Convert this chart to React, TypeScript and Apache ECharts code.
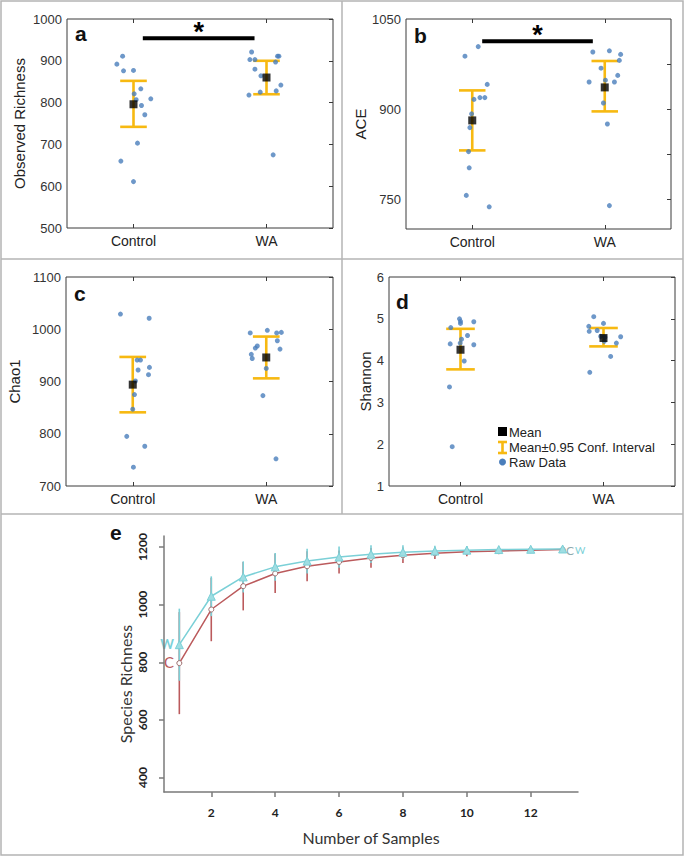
import React, { useEffect, useRef } from "react";
import * as echarts from "echarts";

// ---------- data ----------
const groups = ["Control", "WA"];

// a: Observed Richness
const richCtrlX = [0.875, 0.918, 0.925, 1.0, 1.005, 1.02, 1.055, 1.06, 1.13, 1.085, 1.03, 0.905, 1.0];
const richCtrlY = [892, 911, 876, 877, 821, 807, 833, 793, 809, 771, 703, 660, 611];
const richWaX = [1.888, 1.875, 1.913, 1.913, 1.958, 2.083, 2.093, 2.068, 2.108, 2.073, 1.953, 1.868, 2.05];
const richWaY = [921, 903, 903, 880, 864, 911, 911, 897, 842, 828, 825, 818, 675];
const richMean = [796, 860];
const richLow = [742, 820];
const richHigh = [852, 900];
const richSig = [1.07, 1.91, 954];

// b: ACE
const aceCtrlX = [1.045, 0.945, 1.113, 1.013, 1.058, 1.095, 0.995, 0.982, 0.972, 0.977, 0.955, 1.128];
const aceCtrlY = [1004, 988, 941, 916, 919, 919, 892, 869, 829, 802, 756, 737];
const aceWaX = [1.91, 2.035, 2.12, 2.11, 1.972, 2.005, 1.882, 2.073, 2.098, 1.99, 2.02, 2.035];
const aceWaY = [995, 997, 991, 981, 968, 948, 945, 945, 956, 910, 875, 739];
const aceMean = [881, 936];
const aceLow = [831, 896];
const aceHigh = [931, 980];
const aceSig = [1.075, 1.91, 1013];

// c: Chao1
const chaoCtrlX = [0.908, 1.123, 1.033, 1.058, 1.04, 1.125, 1.118, 1.02, 1.013, 1.0, 0.955, 1.09, 1.005];
const chaoCtrlY = [1029, 1021, 941, 941, 922, 927, 913, 901, 875, 847, 795, 776, 736];
const chaoWaX = [1.88, 2.008, 2.078, 2.113, 2.083, 1.933, 1.918, 2.103, 1.888, 1.895, 2.0, 1.975, 2.073];
const chaoWaY = [993, 998, 993, 994, 978, 968, 964, 962, 952, 944, 925, 873, 752];
const chaoMean = [894, 946];
const chaoLow = [841, 906];
const chaoHigh = [947, 986];

// d: Shannon
const shCtrlX = [0.993, 1.0, 1.093, 0.932, 1.0, 1.049, 1.007, 0.928, 1.093, 0.998, 1.026, 0.923, 0.942];
const shCtrlY = [5.0, 4.94, 4.93, 4.79, 4.89, 4.6, 4.51, 4.4, 4.38, 4.42, 3.99, 3.37, 1.94];
const shWaX = [1.932, 1.897, 2.0, 1.9, 1.956, 1.98, 2.01, 2.12, 2.005, 2.09, 2.05, 1.904];
const shWaY = [5.05, 4.82, 4.89, 4.7, 4.72, 4.58, 4.56, 4.57, 4.46, 4.42, 4.1, 3.72];
const shMean = [4.26, 4.54];
const shLow = [3.79, 4.34];
const shHigh = [4.76, 4.78];

// e: rarefaction
const samples = [1, 2, 3, 4, 5, 6, 7, 8, 9, 10, 11, 12, 13];
const wMean = [861, 1029, 1096, 1131, 1151, 1165, 1175, 1182, 1186, 1189, 1191, 1192, 1193];
const wSd = [125, 69, 54, 48, 43, 37, 31, 24, 18, 14, 10, 6, 0];
const cMean = [797, 983, 1064, 1108, 1133, 1148, 1162, 1171, 1178, 1183, 1186, 1189, 1191];
const cSd = [177, 110, 84, 68, 52, 40, 34, 27, 20, 15, 11, 7, 0];
const eXTicks = [2, 4, 6, 8, 10, 12];
const eYTicks = [400, 600, 800, 1000, 1200];

// ---------- styling ----------
const FONT = "Liberation Sans, Arial, sans-serif";
const FONT_E = "Lato, Liberation Sans, sans-serif";
const BLUE = "#4a7ebb";
const GOLD = "#f7b911";
const CYAN = "#7bd0d7";
const RED = "#bb5a5c";
const FRAME = "#b4b4b4";
const plain = (v: number) => String(v);

const panels = [
  { name: "Observed Richness", letter: "a", grid: { left: 67, top: 19, width: 266, height: 209 }, min: 500, max: 1000, interval: 100, labels: null as number[] | null, rticks: null as number[] | null, nameGap: 40,
    cx: richCtrlX, cy: richCtrlY, wx: richWaX, wy: richWaY, mean: richMean, low: richLow, high: richHigh, sig: richSig as number[] | null },
  { name: "ACE", letter: "b", grid: { left: 406, top: 19, width: 265, height: 210 }, min: 700, max: 1050, interval: 50, labels: [750, 900, 1050], rticks: [750, 825, 900, 975], nameGap: 36,
    cx: aceCtrlX, cy: aceCtrlY, wx: aceWaX, wy: aceWaY, mean: aceMean, low: aceLow, high: aceHigh, sig: aceSig },
  { name: "Chao1", letter: "c", grid: { left: 66, top: 277, width: 267, height: 209 }, min: 700, max: 1100, interval: 100, labels: null, rticks: null, nameGap: 44,
    cx: chaoCtrlX, cy: chaoCtrlY, wx: chaoWaX, wy: chaoWaY, mean: chaoMean, low: chaoLow, high: chaoHigh, sig: null },
  { name: "Shannon", letter: "d", grid: { left: 389, top: 277, width: 286, height: 209 }, min: 1, max: 6, interval: 1, labels: null, rticks: null, nameGap: 16,
    cx: shCtrlX, cy: shCtrlY, wx: shWaX, wy: shWaY, mean: shMean, low: shLow, high: shHigh, sig: null },
];

function buildOption() {
  const grid: any[] = [];
  const xAxis: any[] = [];
  const yAxis: any[] = [];
  const series: any[] = [];

  panels.forEach((p, i) => {
    grid.push({ ...p.grid, show: true, borderColor: "#3a3a3a", borderWidth: 1, backgroundColor: "#fff" });
    const xBase = {
      gridIndex: i, type: "value", min: 0.5, max: 2.5,
      axisLine: { show: false }, splitLine: { show: false },
      axisTick: { show: true, inside: true, length: 4, customValues: [1, 2], lineStyle: { color: "#3a3a3a" } },
    };
    xAxis.push({ ...xBase, position: "bottom",
      axisLabel: { customValues: [1, 2], formatter: (v: number) => (Math.round(v) === 1 ? groups[0] : groups[1]), fontSize: 14, color: "#222", margin: 6, fontFamily: FONT } });
    xAxis.push({ ...xBase, position: "top", axisLabel: { show: false } });
    const yBase: any = {
      gridIndex: i, type: "value", min: p.min, max: p.max, interval: p.interval,
      axisLine: { show: false }, splitLine: { show: false },
    };
    yAxis.push({ ...yBase, position: "left", axisTick: { show: false },
      axisLabel: { fontSize: 13, color: "#333", margin: 5, fontFamily: FONT, formatter: plain, ...(p.labels ? { customValues: p.labels } : {}) },
      name: p.name, nameLocation: "middle", nameGap: p.nameGap, nameTextStyle: { fontSize: 15, color: "#222", fontFamily: FONT } });
    yAxis.push({ ...yBase, position: "right", axisLabel: { show: false },
      axisTick: { show: true, inside: true, length: 4, lineStyle: { color: "#3a3a3a" }, ...(p.rticks ? { customValues: p.rticks } : {}) } });

    const xi = 2 * i, yi = 2 * i;
    // error bars
    series.push({
      type: "custom", xAxisIndex: xi, yAxisIndex: yi, z: 2,
      data: [0, 1].map((k) => [k + 1, p.low[k], p.high[k]]),
      encode: { x: 0, y: [1, 2] },
      renderItem: (params: any, api: any) => {
        const x = api.value(0), lo = api.value(1), hi = api.value(2);
        const a = api.coord([x, lo]), b = api.coord([x, hi]);
        const l = api.coord([x - 0.1, lo]), r = api.coord([x + 0.1, lo]);
        const lt = api.coord([x - 0.1, hi]), rt = api.coord([x + 0.1, hi]);
        const st = { stroke: GOLD, lineWidth: 2.6 };
        return { type: "group", children: [
          { type: "line", shape: { x1: a[0], y1: a[1], x2: b[0], y2: b[1] }, style: st },
          { type: "line", shape: { x1: l[0], y1: l[1], x2: r[0], y2: r[1] }, style: st },
          { type: "line", shape: { x1: lt[0], y1: lt[1], x2: rt[0], y2: rt[1] }, style: st },
        ] };
      },
    });
    // raw data
    const raw: number[][] = [];
    p.cx.forEach((x, k) => raw.push([x, p.cy[k]]));
    p.wx.forEach((x, k) => raw.push([x, p.wy[k]]));
    series.push({ type: "scatter", xAxisIndex: xi, yAxisIndex: yi, z: 3, data: raw, symbol: "circle", symbolSize: 5, itemStyle: { color: BLUE } });
    // mean
    series.push({ type: "scatter", xAxisIndex: xi, yAxisIndex: yi, z: 4, data: [[1, p.mean[0]], [2, p.mean[1]]], symbol: "rect", symbolSize: 8, itemStyle: { color: "#000" } });
    // significance
    if (p.sig) {
      series.push({
        type: "custom", xAxisIndex: xi, yAxisIndex: yi, z: 5,
        data: [p.sig], encode: { x: [0, 1], y: 2 },
        renderItem: (params: any, api: any) => {
          const a = api.coord([api.value(0), api.value(2)]);
          const b = api.coord([api.value(1), api.value(2)]);
          return { type: "group", children: [
            { type: "line", shape: { x1: a[0], y1: a[1], x2: b[0], y2: b[1] }, style: { stroke: "#000", lineWidth: 4 } },
            { type: "text", x: (a[0] + b[0]) / 2, y: a[1] + 7, style: { text: "*", fontSize: 27, fontWeight: "bold", fontFamily: FONT, fill: "#000", align: "center", verticalAlign: "bottom" } },
          ] };
        },
      });
    }
  });

  // panel e
  grid.push({ left: 164, top: 536, width: 414, height: 256 });
  const eAxisColor = "#7a7a7a";
  xAxis.push({
    gridIndex: 4, type: "value", min: 0.52, max: 13.48, splitLine: { show: false },
    axisLine: { show: true, onZero: false, lineStyle: { color: eAxisColor, width: 1.5 } },
    axisTick: { show: true, length: 5, customValues: eXTicks, lineStyle: { color: eAxisColor, width: 1.5 } },
    axisLabel: { customValues: eXTicks, fontSize: 12, fontWeight: "bold", color: "#222", margin: 14, fontFamily: FONT_E, formatter: plain },
    name: "Number of Samples", nameLocation: "middle", nameGap: 37,
    nameTextStyle: { fontSize: 16, color: "#333", fontFamily: FONT_E },
  });
  yAxis.push({
    gridIndex: 4, type: "value", min: 350, max: 1238, splitLine: { show: false },
    axisLine: { show: true, onZero: false, lineStyle: { color: eAxisColor, width: 1.5 } },
    axisTick: { show: true, length: 5, customValues: eYTicks, lineStyle: { color: eAxisColor, width: 1.5 } },
    axisLabel: { customValues: eYTicks, fontSize: 12, fontWeight: "bold", color: "#222", margin: 16, rotate: 90, fontFamily: FONT_E, formatter: plain },
  });
  const errSeries = (mean: number[], sd: number[], color: string, z: number) => ({
    type: "custom", xAxisIndex: 8, yAxisIndex: 8, z,
    data: samples.map((s, k) => [s, mean[k] - sd[k], mean[k] + sd[k]]),
    encode: { x: 0, y: [1, 2] },
    renderItem: (params: any, api: any) => {
      const a = api.coord([api.value(0), api.value(1)]);
      const b = api.coord([api.value(0), api.value(2)]);
      return { type: "line", shape: { x1: a[0], y1: a[1], x2: b[0], y2: b[1] }, style: { stroke: color, lineWidth: 1.6 } };
    },
  });
  series.push(errSeries(cMean, cSd, RED, 2));
  series.push(errSeries(wMean, wSd, CYAN, 3));
  series.push({
    type: "line", xAxisIndex: 8, yAxisIndex: 8, z: 4, name: "C",
    data: samples.map((s, k) => [s, cMean[k]]),
    lineStyle: { color: RED, width: 1.5 }, symbol: "circle", symbolSize: 5,
    itemStyle: { color: "#fff", borderColor: "#9b6b6b", borderWidth: 1 },
  });
  series.push({
    type: "line", xAxisIndex: 8, yAxisIndex: 8, z: 5, name: "W",
    data: samples.map((s, k) => [s, wMean[k]]),
    lineStyle: { color: CYAN, width: 1.5 }, symbol: "triangle", symbolSize: 8,
    itemStyle: { color: "#9fdde2", borderColor: CYAN, borderWidth: 1 },
  });

  // graphics: frames, letters, legend, labels
  const frame = { stroke: FRAME, lineWidth: 1.5 };
  const letter = (t: string, x: number, y: number) => ({
    type: "text", x, y, style: { text: t, fontSize: 21, fontWeight: "bold", fontFamily: FONT, fill: "#111", align: "left", verticalAlign: "middle" },
  });
  const legText = (t: string, y: number) => ({
    type: "text", x: 509, y, style: { text: t, fontSize: 13, fontFamily: FONT, fill: "#222", align: "left", verticalAlign: "middle" },
  });
  const graphic: any[] = [
    { type: "rect", shape: { x: 1, y: 1, width: 682, height: 854 }, style: { fill: "none", ...frame } },
    { type: "line", shape: { x1: 342, y1: 1, x2: 342, y2: 514 }, style: frame },
    { type: "line", shape: { x1: 1, y1: 259, x2: 683, y2: 259 }, style: frame },
    { type: "line", shape: { x1: 1, y1: 514, x2: 683, y2: 514 }, style: frame },
    letter("a", 75, 33),
    letter("b", 414, 35),
    letter("c", 74, 293),
    letter("d", 396, 301),
    letter("e", 110, 532),
    // legend in d
    { type: "rect", shape: { x: 498, y: 427, width: 9, height: 9 }, style: { fill: "#000" } },
    { type: "line", shape: { x1: 502.5, y1: 442, x2: 502.5, y2: 453 }, style: { stroke: GOLD, lineWidth: 2.6 } },
    { type: "line", shape: { x1: 498, y1: 442, x2: 507, y2: 442 }, style: { stroke: GOLD, lineWidth: 2.6 } },
    { type: "line", shape: { x1: 498, y1: 453, x2: 507, y2: 453 }, style: { stroke: GOLD, lineWidth: 2.6 } },
    { type: "circle", shape: { cx: 502.5, cy: 462, r: 3.5 }, style: { fill: BLUE } },
    legText("Mean", 432),
    legText("Mean±0.95 Conf. Interval", 447),
    legText("Raw Data", 462),
    // panel e y title and curve labels
    { type: "text", x: 125, y: 684, rotation: Math.PI / 2,
      style: { text: "Species Richness", fontSize: 16, fontFamily: FONT_E, fill: "#333", align: "center", verticalAlign: "middle" } },
    { type: "text", x: 174, y: 644, style: { text: "W", fontSize: 13, fontWeight: "bold", fontFamily: FONT_E, fill: CYAN, align: "right", verticalAlign: "middle" } },
    { type: "text", x: 174, y: 662, style: { text: "C", fontSize: 15, fontFamily: FONT_E, fill: RED, align: "right", verticalAlign: "middle" } },
    { type: "text", x: 566, y: 550, style: { text: "C", fontSize: 12, fontFamily: FONT_E, fill: "#8fa9ad", align: "left", verticalAlign: "middle" } },
    { type: "text", x: 575, y: 550, style: { text: "W", fontSize: 10, fontFamily: FONT_E, fill: CYAN, align: "left", verticalAlign: "middle" } },
  ];

  return {
    animation: false,
    backgroundColor: "#fff",
    textStyle: { fontFamily: FONT },
    grid, xAxis, yAxis, series, graphic,
  };
}

export default function App() {
  const ref = useRef<HTMLDivElement>(null);
  useEffect(() => {
    document.body.style.margin = "0";
    if (!ref.current) return;
    const chart = echarts.init(ref.current, null, { renderer: "svg" });
    chart.setOption(buildOption() as any);
    return () => chart.dispose();
  }, []);
  return <div ref={ref} style={{ width: 685, height: 856 }} />;
}
